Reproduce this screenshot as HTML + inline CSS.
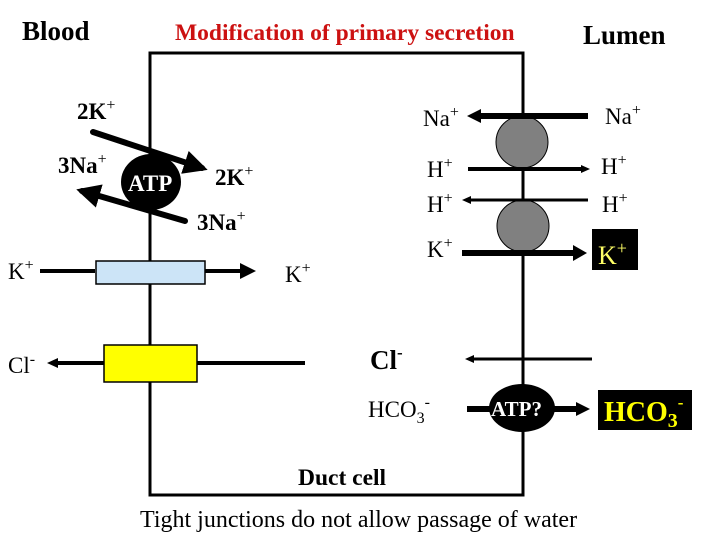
<!DOCTYPE html>
<html><head><meta charset="utf-8"><style>
html,body{margin:0;padding:0;background:#fff;width:720px;height:540px;overflow:hidden}
text{font-family:"Liberation Serif",serif;}
</style></head><body>
<svg width="720" height="540" viewBox="0 0 720 540" xmlns="http://www.w3.org/2000/svg">
<defs>
<marker id="ah" markerWidth="4" markerHeight="4" refX="3" refY="2" orient="auto" markerUnits="strokeWidth"><path d="M0,0 L4,2 L0,4 z" fill="#000"/></marker>
</defs>
<!-- titles -->
<text x="22" y="40" font-size="27" font-weight="bold">Blood</text>
<text x="175" y="40" font-size="23.5" font-weight="bold" fill="#cc1111">Modification of primary secretion</text>
<text x="583" y="44" font-size="27" font-weight="bold">Lumen</text>
<!-- cell -->
<rect x="150" y="53" width="373" height="442" fill="none" stroke="#000" stroke-width="3"/>
<!-- Na/K ATPase -->
<ellipse cx="151" cy="182" rx="30" ry="28" fill="#000"/>
<text x="128" y="191" font-size="23" font-weight="bold" fill="#fff">ATP</text>
<line x1="93" y1="132" x2="202" y2="168" stroke="#000" stroke-width="6" stroke-linecap="round" marker-end="url(#ah)"/>
<line x1="185" y1="221" x2="82" y2="191" stroke="#000" stroke-width="6" stroke-linecap="round" marker-end="url(#ah)"/>
<text x="77" y="119" font-size="23" font-weight="bold">2K<tspan dy="-9" font-size="16" font-weight="normal">+</tspan></text>
<text x="58" y="173" font-size="23" font-weight="bold">3Na<tspan dy="-9" font-size="16" font-weight="normal">+</tspan></text>
<text x="215" y="185" font-size="23" font-weight="bold">2K<tspan dy="-9" font-size="16" font-weight="normal">+</tspan></text>
<text x="197" y="230" font-size="23" font-weight="bold">3Na<tspan dy="-9" font-size="16" font-weight="normal">+</tspan></text>
<!-- K channel -->
<line x1="40" y1="271" x2="95" y2="271" stroke="#000" stroke-width="4"/>
<line x1="205" y1="271" x2="252" y2="271" stroke="#000" stroke-width="4" marker-end="url(#ah)"/>
<rect x="96" y="261" width="109" height="23" fill="#cce4f7" stroke="#000" stroke-width="1.5"/>
<text x="8" y="279" font-size="23">K<tspan dy="-9" font-size="16">+</tspan></text>
<text x="285" y="282" font-size="23">K<tspan dy="-9" font-size="16">+</tspan></text>
<!-- Cl channel -->
<line x1="56" y1="363" x2="104" y2="363" stroke="#000" stroke-width="4"/>
<path d="M47,363 l11,-5 l0,10z" fill="#000"/>
<line x1="197" y1="363" x2="305" y2="363" stroke="#000" stroke-width="4"/>
<rect x="104" y="345" width="93" height="37" fill="#ffff00" stroke="#000" stroke-width="1.5"/>
<text x="8" y="373" font-size="23">Cl<tspan dy="-9" font-size="16">-</tspan></text>
<!-- apical -->
<circle cx="522" cy="142" r="26" fill="#808080" stroke="#000" stroke-width="1"/>
<circle cx="523" cy="226" r="26" fill="#808080" stroke="#000" stroke-width="1"/>
<line x1="588" y1="116" x2="480" y2="116" stroke="#000" stroke-width="6"/>
<path d="M467,116 l14,-7 l0,14z" fill="#000"/>
<line x1="468" y1="169" x2="582" y2="169" stroke="#000" stroke-width="4"/>
<path d="M590,169 l-9,-4 l0,8z" fill="#000"/>
<line x1="588" y1="200" x2="470" y2="200" stroke="#000" stroke-width="3"/>
<path d="M462,200 l9,-4 l0,8z" fill="#000"/>
<line x1="462" y1="253" x2="574" y2="253" stroke="#000" stroke-width="6"/>
<path d="M587,253 l-14,-8 l0,16z" fill="#000"/>
<text x="423" y="126" font-size="23">Na<tspan dy="-9" font-size="16">+</tspan></text>
<text x="605" y="124" font-size="23">Na<tspan dy="-9" font-size="16">+</tspan></text>
<text x="427" y="177" font-size="23">H<tspan dy="-9" font-size="16">+</tspan></text>
<text x="601" y="174" font-size="23">H<tspan dy="-9" font-size="16">+</tspan></text>
<text x="427" y="212" font-size="23">H<tspan dy="-9" font-size="16">+</tspan></text>
<text x="602" y="212" font-size="23">H<tspan dy="-9" font-size="16">+</tspan></text>
<text x="427" y="257" font-size="23">K<tspan dy="-9" font-size="16">+</tspan></text>
<rect x="592" y="229" width="46" height="41" fill="#000"/>
<text x="598" y="264" font-size="26" fill="#ffff66">K<tspan dy="-10" font-size="18">+</tspan></text>
<!-- Cl / HCO3 -->
<text x="370" y="369" font-size="27" font-weight="bold">Cl<tspan dy="-11" font-size="17">-</tspan></text>
<line x1="592" y1="359" x2="473" y2="359" stroke="#000" stroke-width="3"/>
<path d="M465,359 l9,-4 l0,8z" fill="#000"/>
<text x="368" y="417" font-size="23">HCO<tspan dy="6" font-size="16">3</tspan><tspan dy="-16" font-size="16">-</tspan></text>
<line x1="467" y1="409" x2="578" y2="409" stroke="#000" stroke-width="6"/>
<path d="M590,409 l-14,-7 l0,14z" fill="#000"/>
<ellipse cx="522" cy="408" rx="33" ry="24" fill="#000"/>
<text x="491" y="416" font-size="21" font-weight="bold" fill="#fff">ATP?</text>
<rect x="598" y="390" width="94" height="40" fill="#000"/>
<text x="604" y="421" font-size="28" font-weight="bold" fill="#ffff00">HCO<tspan dy="6" font-size="20">3</tspan><tspan dy="-19" font-size="17">-</tspan></text>
<!-- bottom -->
<text x="298" y="485" font-size="23.5" font-weight="bold">Duct cell</text>
<text x="140" y="527" font-size="24">Tight junctions do not allow passage of water</text>
</svg>
</body></html>
